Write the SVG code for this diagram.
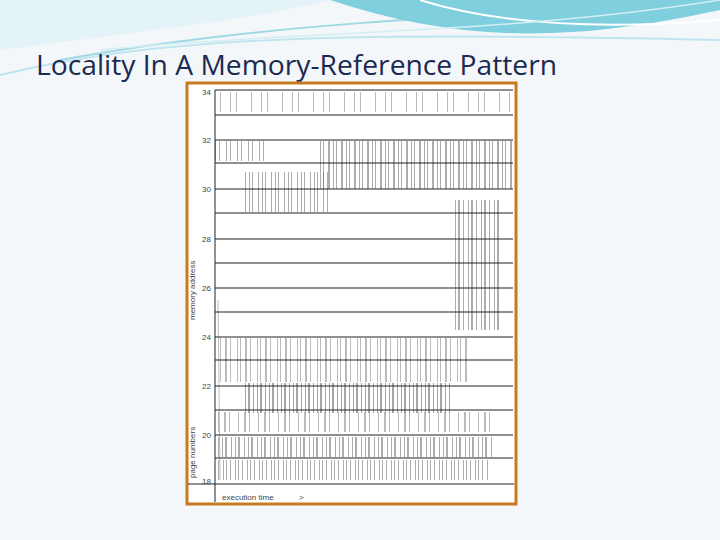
<svg xmlns="http://www.w3.org/2000/svg" width="720" height="540" viewBox="0 0 720 540">
<style>
.grid{stroke:#222;stroke-width:1.1}
.t{fill:none;stroke:#777}
.lbl{font-family:"Liberation Sans",Arial,sans-serif;font-size:8px;fill:#444}
</style>
<rect width="720" height="540" fill="#f4f7fa"/>
<g fill="none">
<path d="M0 75 C150 40 300 30 720 40" stroke="#bfe6ee" stroke-width="2"/>
<path d="M60 60 C250 25 450 15 720 5" stroke="#9fd8e4" stroke-width="2"/>
<path d="M330 0 C450 40 560 45 720 10 L720 0 Z" fill="#7fcfdf" stroke="none"/>
<path d="M420 0 C500 25 600 30 720 20" stroke="#fff" stroke-width="2"/>
<path d="M0 0 L330 0 C250 20 150 30 0 50 Z" fill="#e3f3f7" stroke="none"/>
<path d="M100 50 C300 30 500 35 720 0" stroke="#d2eef3" stroke-width="1.5"/>
</g>
<text x="36" y="75" font-family="'Open Sans','Liberation Sans',sans-serif" font-size="28" textLength="521" lengthAdjust="spacingAndGlyphs" fill="#1a2a50">Locality In A Memory-Reference Pattern</text>
<rect x="187" y="83" width="329" height="421" fill="#fff" stroke="#c87a20" stroke-width="3"/>
<g id="ticks" class="t">
<line x1="220" y1="102" x2="510" y2="102" stroke-width="20" stroke-dasharray="1 9 1 5 1 14" opacity="0.5"/>
<line x1="215" y1="151" x2="265" y2="151" stroke-width="20" stroke-dasharray="1 3 1 6" opacity="0.6"/>
<line x1="320" y1="165" x2="512" y2="165" stroke-width="48" stroke-dasharray="1 2 1 4 2 3" opacity="0.6"/>
<line x1="245" y1="192" x2="330" y2="192" stroke-width="40" stroke-dasharray="1 3 1 2 1 5" opacity="0.6"/>
<line x1="455" y1="265" x2="500" y2="265" stroke-width="130" stroke-dasharray="1 2 2 3 1 4" opacity="0.6"/>
<line x1="220" y1="360" x2="470" y2="360" stroke-width="44" stroke-dasharray="1 4 2 3 1 6 1 2" opacity="0.5"/>
<line x1="245" y1="398" x2="450" y2="398" stroke-width="30" stroke-dasharray="1 2 2 3 1 3" opacity="0.65"/>
<line x1="218" y1="422" x2="490" y2="422" stroke-width="20" stroke-dasharray="1 5 2 3 1 8" opacity="0.5"/>
<line x1="218" y1="447" x2="495" y2="447" stroke-width="20" stroke-dasharray="1 3 1 2 2 4" opacity="0.6"/>
<line x1="218" y1="470" x2="490" y2="470" stroke-width="20" stroke-dasharray="1 4 1 2 1 3" opacity="0.6"/>
<line x1="218" y1="300" x2="220" y2="480" stroke-width="1" opacity="0.5"/>
</g>
<g id="grid" class="grid">
<line x1="215" y1="90" x2="513" y2="90"/>
<line x1="215" y1="115" x2="513" y2="115"/>
<line x1="215" y1="140" x2="513" y2="140"/>
<line x1="215" y1="163" x2="513" y2="163"/>
<line x1="215" y1="189" x2="513" y2="189"/>
<line x1="215" y1="213" x2="513" y2="213"/>
<line x1="215" y1="239" x2="513" y2="239"/>
<line x1="215" y1="263" x2="513" y2="263"/>
<line x1="215" y1="288" x2="513" y2="288"/>
<line x1="215" y1="312" x2="513" y2="312"/>
<line x1="215" y1="337" x2="513" y2="337"/>
<line x1="215" y1="360" x2="513" y2="360"/>
<line x1="215" y1="386" x2="513" y2="386"/>
<line x1="215" y1="410" x2="513" y2="410"/>
<line x1="215" y1="435" x2="513" y2="435"/>
<line x1="215" y1="458" x2="513" y2="458"/>
<line x1="188" y1="484" x2="514" y2="484"/>
<line x1="215" y1="90" x2="215" y2="502" stroke-width="1"/>
</g>
<g id="labels" class="lbl">
<text x="202" y="95">34</text><text x="202" y="143">32</text><text x="202" y="192">30</text>
<text x="202" y="242">28</text><text x="202" y="291">26</text><text x="202" y="340">24</text>
<text x="202" y="389">22</text><text x="202" y="438">20</text><text x="202" y="484">18</text>
<text transform="translate(195,320) rotate(-90)">memory address</text>
<text transform="translate(195,478) rotate(-90)">page numbers</text>
<text x="222" y="500">execution time</text><text x="299" y="500">&gt;</text>
</g>
</svg>
